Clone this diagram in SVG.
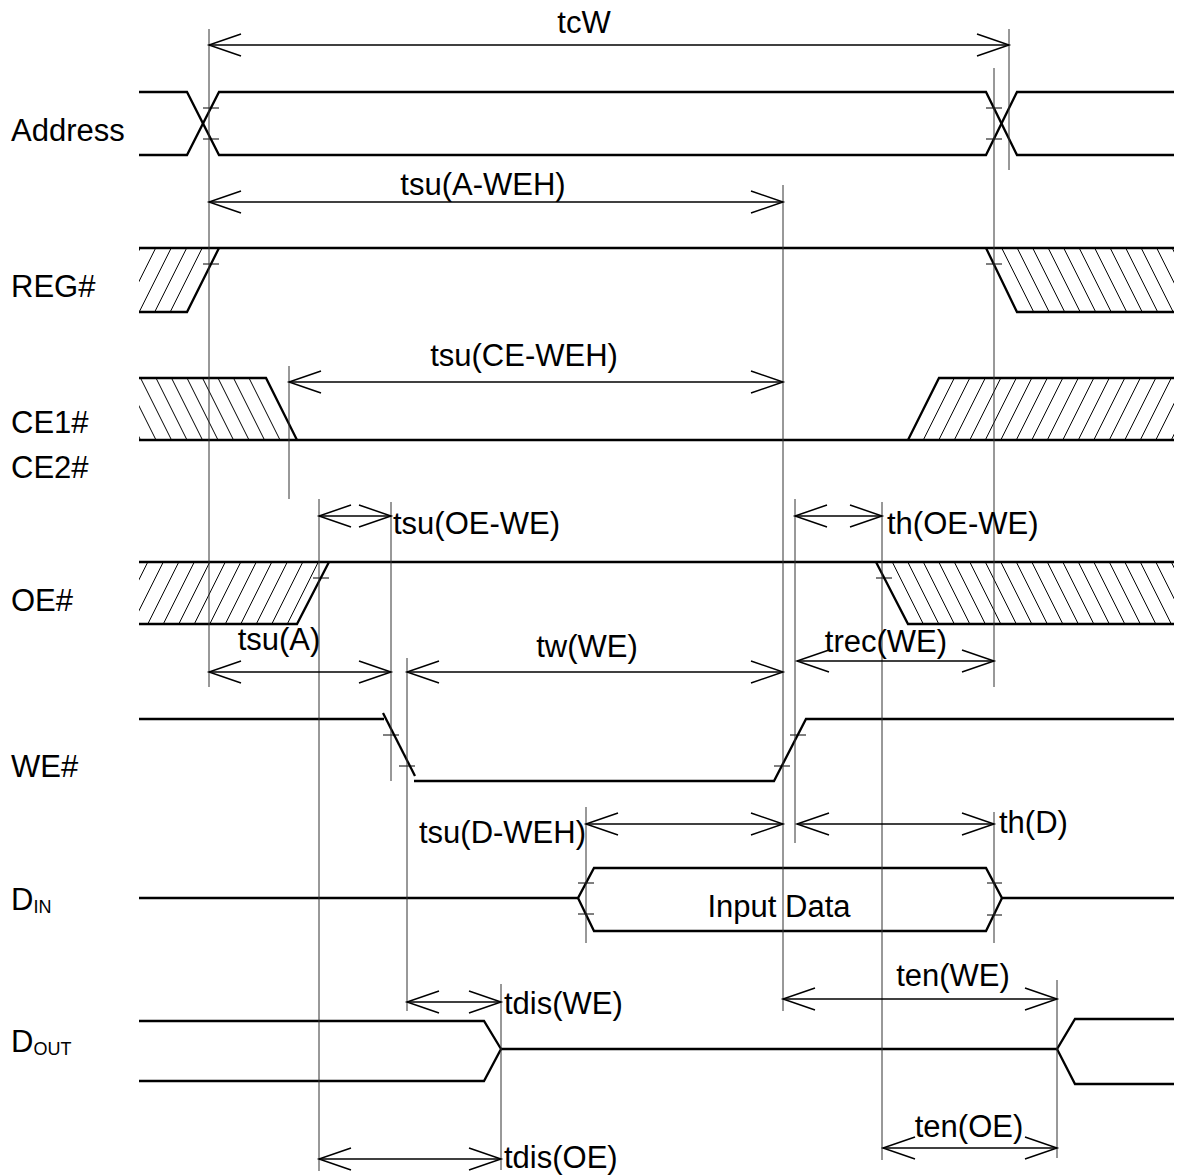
<svg xmlns="http://www.w3.org/2000/svg" width="1179" height="1176" viewBox="0 0 1179 1176">
<style>
.wave{fill:none;stroke:#000;stroke-width:2.3;stroke-linejoin:miter}
.tick{fill:none;stroke:#000;stroke-width:1}
.hatch{fill:none;stroke:#000;stroke-width:1}
.vl{fill:none;stroke:#333;stroke-width:1}
.dim{fill:none;stroke:#000;stroke-width:1.3}
text{font-family:"Liberation Sans",Arial,sans-serif;font-size:31px;fill:#000}
.sub{font-size:18px}
</style>
<defs>
<marker id="ah" markerUnits="userSpaceOnUse" markerWidth="34" markerHeight="24" refX="32" refY="11" orient="auto-start-reverse" overflow="visible">
<path d="M0,0 L32,11 L0,22" fill="none" stroke="#000" stroke-width="1.5"/>
</marker>
<clipPath id="c1"><polygon points="139,248 219,248 187,312 139,312"/></clipPath>
<clipPath id="c2"><polygon points="986,248 1174,248 1174,312 1017,312"/></clipPath>
<clipPath id="c3"><polygon points="139,378 266,378 297,440 139,440"/></clipPath>
<clipPath id="c4"><polygon points="939,378 1174,378 1174,440 908,440"/></clipPath>
<clipPath id="c5"><polygon points="139,562 329,562 297,624 139,624"/></clipPath>
<clipPath id="c6"><polygon points="876,562 1174,562 1174,624 908,624"/></clipPath>
</defs>
<rect width="1179" height="1176" fill="#fff"/>

<g id="address">
<text x="11" y="141">Address</text>
<path class="wave" d="M139,92 H187 L219,155 H986 L1017,92 H1174"/>
<path class="wave" d="M139,155 H187 L219,92 H986 L1017,155 H1174"/>
<path class="tick" d="M203,108 H219 M203,139 H219 M986,108 H1002 M986,139 H1002"/>
</g>

<g id="reg">
<text x="11" y="297">REG#</text>
<path class="hatch" clip-path="url(#c1)" d="M140.2,248L108.2,312 M155.7,248L123.7,312 M171.2,248L139.2,312 M186.7,248L154.7,312 M202.2,248L170.2,312"/>
<path class="hatch" clip-path="url(#c2)" d="M1001.7,248l32,64 M1017.2,248l32,64 M1032.7,248l32,64 M1048.2,248l32,64 M1063.7,248l32,64 M1079.2,248l32,64 M1094.7,248l32,64 M1110.2,248l32,64 M1125.7,248l32,64 M1141.2,248l32,64 M1156.7,248l32,64 M1172.2,248l32,64"/>
<path class="wave" d="M139,248 H1174"/>
<path class="wave" d="M139,312 H187 L219,248"/>
<path class="wave" d="M986,248 L1017,312 H1174"/>
<path class="tick" d="M203,264 H219 M986,264 H1002"/>
</g>

<g id="ce">
<text x="11" y="433">CE1#</text>
<text x="11" y="478">CE2#</text>
<path class="hatch" clip-path="url(#c3)" d="M109.5,378l31,62 M125,378l31,62 M140.5,378l31,62 M156,378l31,62 M171.5,378l31,62 M187,378l31,62 M202.5,378l31,62 M218,378l31,62 M233.5,378l31,62 M249,378l31,62"/>
<path class="hatch" clip-path="url(#c4)" d="M954.3,378l-31,62 M969.8,378l-31,62 M985.3,378l-31,62 M1000.8,378l-31,62 M1016.3,378l-31,62 M1031.8,378l-31,62 M1047.3,378l-31,62 M1062.8,378l-31,62 M1078.3,378l-31,62 M1093.8,378l-31,62 M1109.3,378l-31,62 M1124.8,378l-31,62 M1140.3,378l-31,62 M1155.8,378l-31,62 M1171.3,378l-31,62 M1186.8,378l-31,62 M1202.3,378l-31,62"/>
<path class="wave" d="M139,378 H266 L297,440"/>
<path class="wave" d="M139,440 H1174"/>
<path class="wave" d="M908,440 L939,378 H1174"/>
</g>

<g id="oe">
<text x="11" y="611">OE#</text>
<path class="hatch" clip-path="url(#c5)" d="M132.3,562l-31,62 M147.8,562l-31,62 M163.3,562l-31,62 M178.8,562l-31,62 M194.3,562l-31,62 M209.8,562l-31,62 M225.3,562l-31,62 M240.8,562l-31,62 M256.3,562l-31,62 M271.8,562l-31,62 M287.3,562l-31,62 M302.8,562l-31,62 M318.3,562l-31,62"/>
<path class="hatch" clip-path="url(#c6)" d="M892.3,562l31,62 M907.8,562l31,62 M923.3,562l31,62 M938.8,562l31,62 M954.3,562l31,62 M969.8,562l31,62 M985.3,562l31,62 M1000.8,562l31,62 M1016.3,562l31,62 M1031.8,562l31,62 M1047.3,562l31,62 M1062.8,562l31,62 M1078.3,562l31,62 M1093.8,562l31,62 M1109.3,562l31,62 M1124.8,562l31,62 M1140.3,562l31,62 M1155.8,562l31,62 M1171.3,562l31,62"/>
<path class="wave" d="M139,562 H1174"/>
<path class="wave" d="M139,624 H297 L329,562"/>
<path class="wave" d="M876,562 L908,624 H1174"/>
<path class="tick" d="M313,578 H329 M876,578 H892"/>
</g>

<g id="we">
<text x="11" y="777">WE#</text>
<path class="wave" d="M139,719 H384"/>
<path class="wave" d="M383,713 L415,776"/>
<path class="wave" d="M414,781 H774 L806,719 H1174"/>
<path class="tick" d="M383,735 H399 M399,766 H415 M790,735 H806 M774,766 H790"/>
</g>

<g id="din">
<text x="11" y="910">D<tspan class="sub" dy="3">IN</tspan></text>
<path class="wave" d="M139,898 H578 L594,868 H986 L1002,898 H1174"/>
<path class="wave" d="M578,898 L594,931 H986 L1002,898"/>
<path class="tick" d="M578,883 H594 M578,914 H594 M987,883 H1002 M987,915 H1002"/>
<text x="779" y="917" text-anchor="middle">Input Data</text>
</g>

<g id="dout">
<text x="11" y="1052">D<tspan class="sub" dy="3">OUT</tspan></text>
<path class="wave" d="M139,1021 H484 L501,1049 L484,1081 H139"/>
<path class="wave" d="M501,1049 H1057 L1075,1019 H1174"/>
<path class="wave" d="M1057,1049 L1075,1084 H1174"/>
</g>

<g id="connectors">
<path class="vl" d="M209,29 V687 M1009,29 V170 M994,68 V687 M289,366 V499 M783,185 V1011 M319,499 V1171 M391,502 V781 M795,499 V843 M882,502 V1160 M407,658 V1011 M586,807 V943 M994,812 V943 M501,984 V1170 M1057,980 V1158"/>
<g class="dim" marker-start="url(#ah)" marker-end="url(#ah)">
<path d="M209,45 H1009"/>
<path d="M209,202 H783"/>
<path d="M289,382 H783"/>
<path d="M319,516 H391"/>
<path d="M795,516 H882"/>
<path d="M209,672 H391"/>
<path d="M407,672 H783"/>
<path d="M797,661 H994"/>
<path d="M586,824 H783"/>
<path d="M797,824 H994"/>
<path d="M407,1002 H501"/>
<path d="M783,999 H1057"/>
<path d="M319,1159 H501"/>
<path d="M883,1148 H1057"/>
</g>
<text x="584" y="33" text-anchor="middle">tcW</text>
<text x="483" y="195" text-anchor="middle">tsu(A-WEH)</text>
<text x="524" y="366" text-anchor="middle">tsu(CE-WEH)</text>
<text x="393" y="534">tsu(OE-WE)</text>
<text x="887" y="534">th(OE-WE)</text>
<text x="279" y="650" text-anchor="middle">tsu(A)</text>
<text x="587" y="657" text-anchor="middle">tw(WE)</text>
<text x="886" y="652" text-anchor="middle">trec(WE)</text>
<text x="586" y="843" text-anchor="end">tsu(D-WEH)</text>
<text x="999" y="833">th(D)</text>
<text x="504" y="1014">tdis(WE)</text>
<text x="953" y="986" text-anchor="middle">ten(WE)</text>
<text x="504" y="1168">tdis(OE)</text>
<text x="969" y="1137" text-anchor="middle">ten(OE)</text>
</g>
</svg>
